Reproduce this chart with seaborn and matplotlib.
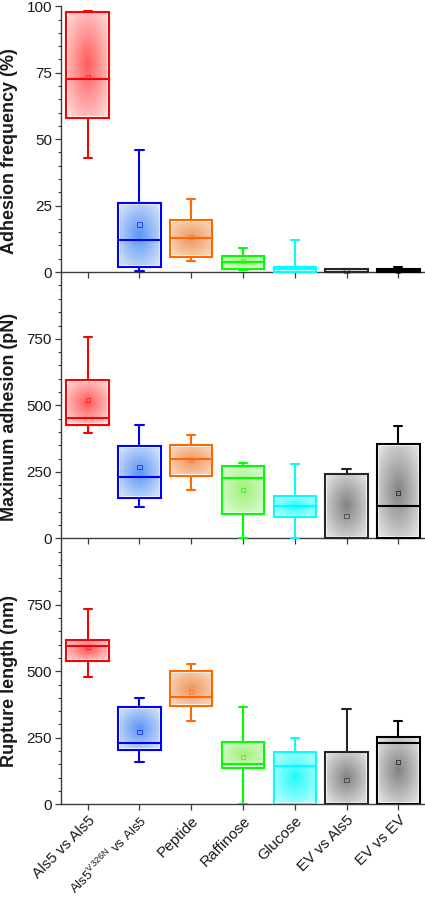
import numpy as np
import pandas as pd
import matplotlib
matplotlib.use("Agg")
import matplotlib.pyplot as plt
import seaborn as sns
from matplotlib.ticker import MultipleLocator
from matplotlib.colors import to_rgb

# ---------------- data ----------------
categories = ["Als5 vs Als5", "Als5$^{\\mathregular{V326N}}$ vs Als5", "Peptide",
              "Raffinose", "Glucose", "EV vs Als5", "EV vs EV"]

# Adhesion frequency (%)
freq_min = [43.0, 0.5, 4.1, 0.8, 0.0, 0.0, 0.0]
freq_q1 = [58.0, 2.0, 5.5, 1.0, 0.0, 0.0, 0.0]
freq_med = [72.8, 12.0, 12.8, 3.9, 1.0, 0.0, 0.5]
freq_q3 = [97.9, 25.9, 19.4, 6.0, 2.0, 1.0, 1.0]
freq_max = [98.2, 45.9, 27.3, 8.9, 12.0, 1.0, 1.7]
freq_mean = [73.3, 17.9, 13.3, 4.0, 1.2, 0.5, 0.6]

# Maximum adhesion (pN)
force_min = [395, 116, 183, 0, 0, 0, 0]
force_q1 = [427, 151, 235, 92, 81, 0, 0]
force_med = [452, 230, 299, 225, 122, 0, 120]
force_q3 = [596, 346, 351, 273, 158, 242, 353]
force_max = [757, 426, 390, 282, 278, 260, 421]
force_mean = [520, 267, 294, 183, 130, 84, 170]

# Rupture length (nm)
rupt_min = [479, 158, 314, 0, 0, 0, 0]
rupt_q1 = [539, 205, 370, 138, 0, 0, 0]
rupt_med = [594, 232, 405, 153, 144, 0, 232]
rupt_q3 = [618, 365, 501, 236, 196, 196, 252]
rupt_max = [733, 399, 527, 365, 248, 358, 313]
rupt_mean = [590, 271, 423, 178, 115, 91, 158]

ylabels = ["Adhesion frequency (%)", "Maximum adhesion (pN)", "Rupture length (nm)"]

# ---------------- style ----------------
edge_colors = ["#FF0000", "#0000FF", "#FF6A00", "#00FF00", "#00FFFF", "#262626", "#000000"]
fill_center = ["#FF5A5A", "#5A96F5", "#F0965F", "#A0F078", "#28FAFA", "#828282", "#828282"]
fill_outer = ["#FFD7D7", "#D2E1FA", "#FAD7BE", "#DCFAD2", "#B4FFFF", "#E1E1E1", "#E1E1E1"]
xlabel_sizes = [11, 9.5, 11, 11, 11, 11, 11]

sns.set_style("white")
plt.rcParams["font.family"] = ["Liberation Sans", "DejaVu Sans"]
plt.rcParams["mathtext.fontset"] = "custom"
plt.rcParams["mathtext.rm"] = "Liberation Sans"

W, H = 425, 900
fig = plt.figure(figsize=(W / 100, H / 100), dpi=100)

AX_L = 61
# pixel boxes (top, bottom) for each panel
panels_px = [(6.3, 290.0), (290.0, 560.0), (560.0, 804.3)]
ylims = [(-6.77, 100), (-81.6, 933.5), (0, 918.4)]
majors = [25, 250, 250]
minors = [5, 50, 50]
label_y_px = [151, 416.7, 680.8]

axes = []
for (top, bot) in panels_px:
    ax = fig.add_axes([AX_L / W, 1 - bot / H, (W - AX_L) / W, (bot - top) / H])
    axes.append(ax)

datasets = [
    (freq_min, freq_q1, freq_med, freq_q3, freq_max, freq_mean),
    (force_min, force_q1, force_med, force_q3, force_max, force_mean),
    (rupt_min, rupt_q1, rupt_med, rupt_q3, rupt_max, rupt_mean),
]

XLIM = (-0.515, 6.515)


def gradient_image(w, h, c_center, c_outer):
    yy, xx = np.mgrid[0:h, 0:w] + 0.5
    dx = (xx - w / 2) / (w / 2)
    dy = (yy - h / 2) / (h / 2)
    t = np.clip(np.sqrt(dx ** 2 + dy ** 2) / 1.25, 0, 1)[..., None]
    cc = np.array(to_rgb(c_center))
    co = np.array(to_rgb(c_outer))
    img = cc * (1 - t) + co * t
    d = np.minimum(np.minimum(xx, w - xx), np.minimum(yy, h - yy))[..., None]
    ring = ((d >= 1.0) & (d < 2.2)).astype(float) * 0.85
    img = img * (1 - ring) + ring
    return img


for i, (ax, ds) in enumerate(zip(axes, datasets)):
    mins, q1s, meds, q3s, maxs, means = ds
    rows = []
    for c, vals in zip(categories, zip(mins, q1s, meds, q3s, maxs)):
        for v in vals:
            rows.append({"cat": c, "val": v})
    df = pd.DataFrame(rows)
    sns.boxplot(data=df, x="cat", y="val", hue="cat", order=categories,
                hue_order=categories, palette=edge_colors, whis=(0, 100),
                width=0.82, linewidth=1.5, fill=True, legend=False,
                showfliers=False, ax=ax, capwidths=0.16)
    ax.set_xlim(*XLIM)
    ax.set_ylim(*ylims[i])

    # recolor lines by category
    for ln in ax.lines:
        xd = np.asarray(ln.get_xdata(), dtype=float)
        idx = int(round(float(np.mean(xd))))
        idx = min(max(idx, 0), 6)
        ln.set_color(edge_colors[idx])
        ln.set_linewidth(1.5)
        ln.set_zorder(3)

    # gradient fills clipped to box patches
    for p in list(ax.patches):
        ext = p.get_path().get_extents()
        idx = int(round((ext.x0 + ext.x1) / 2))
        idx = min(max(idx, 0), 6)
        p.set_edgecolor(edge_colors[idx])
        p.set_facecolor("none")
        p.set_linewidth(1.5)
        p.set_zorder(3)
        (px0, py0) = ax.transData.transform((ext.x0, ext.y0))
        (px1, py1) = ax.transData.transform((ext.x1, ext.y1))
        w = max(int(round(px1 - px0)), 2)
        h = max(int(round(py1 - py0)), 2)
        img = gradient_image(w, h, fill_center[idx], fill_outer[idx])
        im = ax.imshow(img, extent=(ext.x0, ext.x1, ext.y0, ext.y1), origin="lower",
                       aspect="auto", interpolation="bilinear", zorder=1.5)
        im.set_clip_path(p)

    # mean markers
    ax.scatter(range(len(categories)), means, marker="s", s=9, facecolors="none",
               edgecolors=edge_colors, linewidths=0.7, alpha=0.6, zorder=4)

    ax.set_xlim(*XLIM)
    ax.set_ylim(*ylims[i])
    for s in ("top", "right"):
        ax.spines[s].set_visible(False)
    ax.spines["bottom"].set_position(("data", 0))
    for s in ("left", "bottom"):
        ax.spines[s].set_color("#3c3c3c")
        ax.spines[s].set_linewidth(1.0)
    ax.yaxis.set_major_locator(MultipleLocator(majors[i]))
    ax.yaxis.set_minor_locator(MultipleLocator(minors[i]))
    ax.tick_params(axis="y", which="major", direction="out", length=4.5, width=0.9,
                   color="#3c3c3c", labelsize=11, labelcolor="#1a1a1a", pad=2, left=True)
    ax.tick_params(axis="y", which="minor", direction="out", length=2.5, width=0.8,
                   color="#3c3c3c", left=True)
    ax.tick_params(axis="x", which="major", direction="out", length=4, width=0.9,
                   color="#3c3c3c", bottom=True)
    ax.set_xticks(range(len(categories)))
    ax.set_xlabel("")
    ax.set_ylabel(ylabels[i], fontsize=13, fontweight="bold", color="#1a1a1a")
    top, bot = panels_px[i]
    ax.yaxis.set_label_coords((18 - AX_L) / (W - AX_L), (bot - label_y_px[i]) / (bot - top))
    ax.set_facecolor("none")
    if i < 2:
        ax.tick_params(axis="x", labelbottom=False)
        ax.set_xticklabels([])
    else:
        ax.set_xticklabels(categories, rotation=45, ha="right", rotation_mode="anchor",
                           color="#1a1a1a")
        for lbl, fs in zip(ax.get_xticklabels(), xlabel_sizes):
            lbl.set_fontsize(fs)
        ax.tick_params(axis="x", pad=2.5)

fig.savefig("out.png", dpi=100)
